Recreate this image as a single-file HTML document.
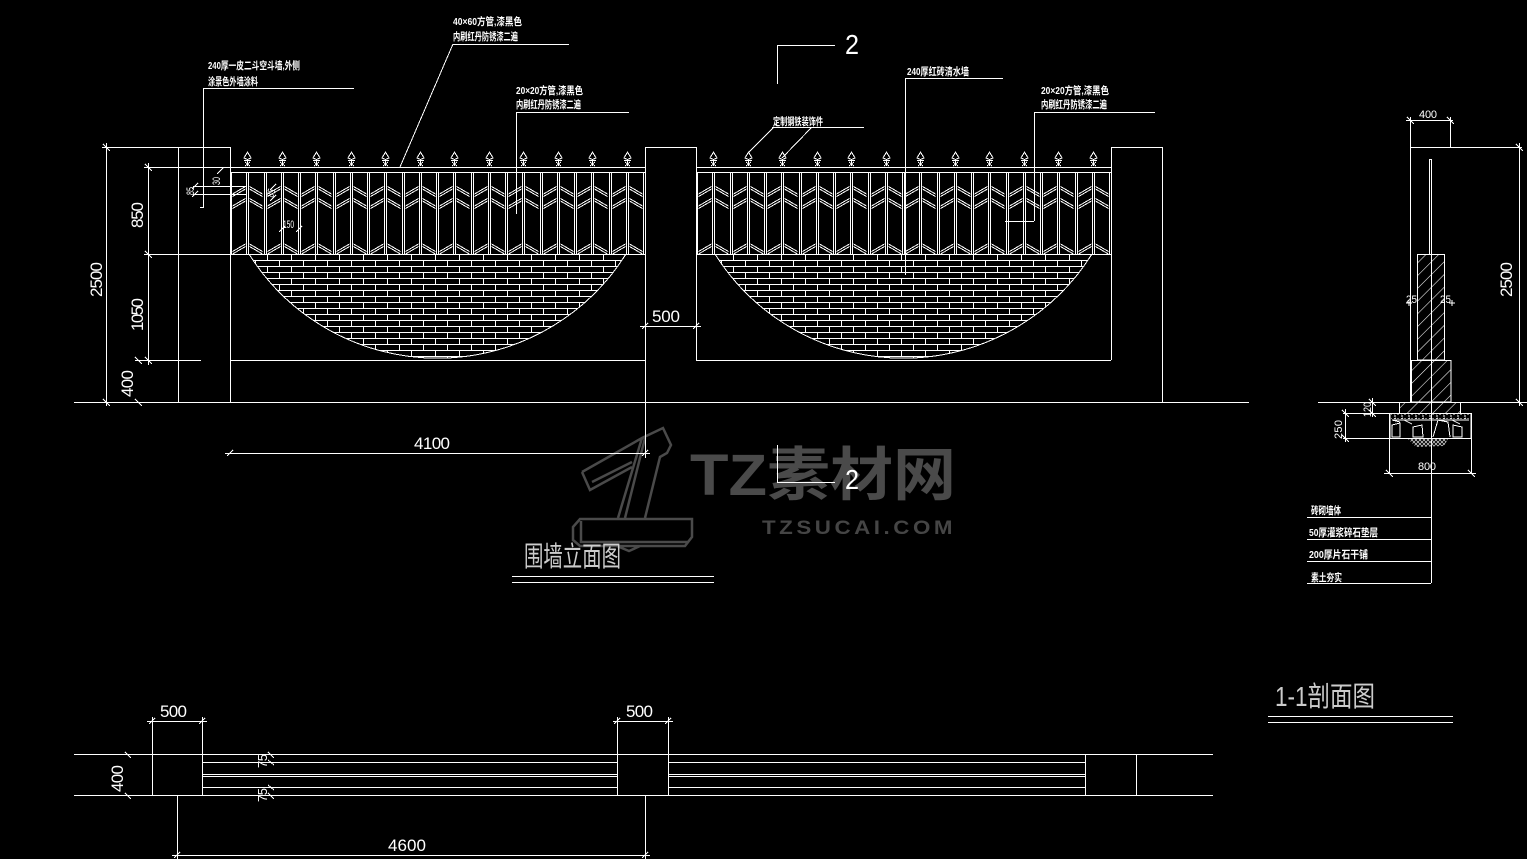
<!DOCTYPE html>
<html><head><meta charset="utf-8"><style>
html,body{margin:0;padding:0;background:#000;overflow:hidden}
svg{display:block}
text{font-family:"Liberation Sans","Noto Sans CJK SC",sans-serif;fill:#fff}
.l{stroke:#fff;stroke-width:1;fill:none;shape-rendering:crispEdges}
.c{font-size:10.500px;font-weight:bold;font-family:"Liberation Sans Narrow","Liberation Sans","Noto Sans CJK SC",sans-serif}
.n{font-size:17px;font-family:"Liberation Sans Narrow","Liberation Sans",sans-serif}
.s{font-size:11px;font-family:"Liberation Sans Narrow","Liberation Sans",sans-serif}
</style></head><body>
<svg width="1527" height="859" viewBox="0 0 1527 859" xmlns="http://www.w3.org/2000/svg">
<defs>
<g id="bay" class="l">
<path d="M2.500 194L15.500 186.500M2.500 196.500L15.500 189M19.500 186.500L32.500 194M19.500 189L32.500 196.500M2.500 206L15.500 198.500M2.500 208.500L15.500 201M19.500 198.500L32.500 206M19.500 201L32.500 208.500M2.500 251.500L15.500 244M2.500 254L15.500 246.500M19.500 244L32.500 251.500M19.500 246.500L32.500 254"/>
<path d="M16.500 172V254M18.500 172V254"/>
<path d="M17.500 152L21 158L17.500 159.500L14 158ZM14 160.500H21M15 162L20 166M20 162L15 166M17.500 159.500V166"/>
</g>
<g id="lowbar" class="l"><path d="M-.5 172V254M1.500 172V254"/></g>
<pattern id="b1" patternUnits="userSpaceOnUse" x="243" y="254" width="24" height="12"><path d="M0 .500H24M0 6.500H24M.500 0V6M12.500 6V12" stroke="#fff" fill="none" shape-rendering="crispEdges"/></pattern>
<pattern id="b2" patternUnits="userSpaceOnUse" x="709" y="254" width="24" height="12"><path d="M0 .500H24M0 6.500H24M.500 0V6M12.500 6V12" stroke="#fff" fill="none" shape-rendering="crispEdges"/></pattern>
<pattern id="h" patternUnits="userSpaceOnUse" width="9" height="9" patternTransform="rotate(45)"><path d="M0 0V9" stroke="#fff" stroke-width="1.100" fill="none"/></pattern>
<pattern id="x" patternUnits="userSpaceOnUse" width="4" height="4"><path d="M0 4L4 0M0 0L4 4" stroke="#ddd" stroke-width=".7" fill="none"/></pattern>
<pattern id="g" patternUnits="userSpaceOnUse" width="7" height="5"><path d="M1 1H3M5 3V5M1 4L3 3" stroke="#fff" fill="none"/></pattern>
<clipPath id="a1"><path d="M249 254H626A222.600 222.600 0 0 1 249 254Z"/></clipPath>
<clipPath id="a2"><path d="M715 254H1092A222.600 222.600 0 0 1 715 254Z"/></clipPath>
</defs>
<rect width="1527" height="859" fill="#000"/>

<!-- watermark -->
<g stroke="#4a4a4a" stroke-width="2.500" fill="none">
<path d="M582 472L642 438L663 428L671 445L667 453L660 457L645 518M582 472L590 490L632 467M592 482L632 462M642 438L618 518M645 438L625 518"/>
<path d="M580 519H692V537L685 546H580L573 540V527ZM581 521V542H688L692 537M617 546L629 551L640 546"/>
</g>
<text x="690" y="495" textLength="266" lengthAdjust="spacingAndGlyphs" style="font-size:58px;font-weight:bold;fill:#4a4a4a;font-family:'Liberation Sans','Noto Sans CJK SC',sans-serif">TZ素材网</text>
<text x="762" y="534" textLength="194" lengthAdjust="spacingAndGlyphs" style="font-size:19px;font-weight:bold;fill:#454545;letter-spacing:3px">TZSUCAI.COM</text>

<!-- fence panel 1 -->
<use href="#bay" x="230"/><use href="#bay" x="265"/><use href="#bay" x="299"/><use href="#bay" x="334"/><use href="#bay" x="368"/><use href="#bay" x="403"/><use href="#bay" x="437"/><use href="#bay" x="472"/><use href="#bay" x="506"/><use href="#bay" x="541"/><use href="#bay" x="575"/><use href="#bay" x="610"/>
<use href="#lowbar" x="265"/><use href="#lowbar" x="299"/><use href="#lowbar" x="334"/><use href="#lowbar" x="368"/><use href="#lowbar" x="403"/><use href="#lowbar" x="437"/><use href="#lowbar" x="472"/><use href="#lowbar" x="506"/><use href="#lowbar" x="541"/><use href="#lowbar" x="575"/><use href="#lowbar" x="610"/>
<!-- fence panel 2 -->
<use href="#bay" x="696"/><use href="#bay" x="731"/><use href="#bay" x="765"/><use href="#bay" x="800"/><use href="#bay" x="834"/><use href="#bay" x="869"/><use href="#bay" x="903"/><use href="#bay" x="938"/><use href="#bay" x="972"/><use href="#bay" x="1007"/><use href="#bay" x="1041"/><use href="#bay" x="1076"/>
<use href="#lowbar" x="731"/><use href="#lowbar" x="765"/><use href="#lowbar" x="800"/><use href="#lowbar" x="834"/><use href="#lowbar" x="869"/><use href="#lowbar" x="903"/><use href="#lowbar" x="938"/><use href="#lowbar" x="972"/><use href="#lowbar" x="1007"/><use href="#lowbar" x="1041"/><use href="#lowbar" x="1076"/>
<path class="l" d="M231.500 172V254M643.500 172V254M697.500 172V254M1109.500 172V254"/>
<g clip-path="url(#a1)"><rect x="230" y="254" width="415" height="110" fill="url(#b1)"/></g>
<g clip-path="url(#a2)"><rect x="696" y="254" width="415" height="110" fill="url(#b2)"/></g>
<path class="l" d="M249 254A222.600 222.600 0 0 0 626 254M715 254A222.600 222.600 0 0 0 1092 254"/>

<path class="l" d="M74 402.500H1249M102 147.500H230M178.500 147V402M230.500 147V402M645.500 147V458M696.500 147V360.500M645 147.500H696M1111.500 147V360M1111 147.500H1162M1162.500 147V402
M144 167.500H645M696 167.500H1111M230 172.500H645M696 172.500H1111M144 254.500H645M696 254.500H1111M135 360.500H201M230 360.500H645M696 360.500H1111
M106.500 143V406M148.500 163V365M193 186.500H247M193 194.500H247"/>
<path class="l" d="M203.500 88V208M200 207.500H203M203 88.500H354M400 167L453 44M453 44.500H569M516.500 112V214M516 112.500H629M905.500 78V275M905 78.500H1003M1034.500 112V221M1034 112.500H1155M1005 221.500H1034M748 153L774 127M782 158L812 127M772 127.500H864
M777.500 45V84M777 45.500H835M777.500 445V482M777 482.500H835
M225 453.500H650M640 326.500H701"/>
<path class="l" d="M103 144L110 151M145 164L152 171M145 251L152 258M145 357L152 364M135 357L142 364M135 399L142 406M103 399L110 406M227 456L233 450M642 456L648 450M642 329L648 323M693 329L699 323M279 232L285 226M296 232L302 226M217 174L223 168M192 189L198 183M192 197L198 191M270 190L276 184M270 201L276 195"/>

<g class="n">
<text transform="rotate(-90 143 228)" x="143" y="228" textLength="26">850</text>
<text transform="rotate(-90 143 331)" x="143" y="331" textLength="33">1050</text>
<text transform="rotate(-90 102 297)" x="102" y="297" textLength="35">2500</text>
<text transform="rotate(-90 133 397)" x="133" y="397" textLength="27">400</text>
<text x="652" y="322" textLength="28">500</text>
<text x="414" y="449" textLength="36">4100</text>
<text x="845" y="54" style="font-size:28px" textLength="14" lengthAdjust="spacingAndGlyphs">2</text>
<text x="845" y="489" style="font-size:28px" textLength="14" lengthAdjust="spacingAndGlyphs">2</text>
</g>
<g class="c">
<text x="208" y="69" textLength="92" lengthAdjust="spacingAndGlyphs">240厚一皮二斗空斗墙,外侧</text>
<text x="208" y="85" textLength="50" lengthAdjust="spacingAndGlyphs">涂景色外墙涂料</text>
<text x="453" y="25" textLength="69" lengthAdjust="spacingAndGlyphs">40×60方管,漆黑色</text>
<text x="453" y="40" textLength="65" lengthAdjust="spacingAndGlyphs">内刷红丹防锈漆二遍</text>
<text x="516" y="94" textLength="67" lengthAdjust="spacingAndGlyphs">20×20方管,漆黑色</text>
<text x="516" y="108" textLength="65" lengthAdjust="spacingAndGlyphs">内刷红丹防锈漆二遍</text>
<text x="907" y="75" textLength="62" lengthAdjust="spacingAndGlyphs">240厚红砖清水墙</text>
<text x="1041" y="94" textLength="68" lengthAdjust="spacingAndGlyphs">20×20方管,漆黑色</text>
<text x="1041" y="108" textLength="66" lengthAdjust="spacingAndGlyphs">内刷红丹防锈漆二遍</text>
<text x="773" y="125" textLength="50" lengthAdjust="spacingAndGlyphs">定制钢铁装饰件</text>
</g>
<g class="s">
<text x="283" y="228" textLength="11" lengthAdjust="spacingAndGlyphs">150</text>
<text transform="rotate(-90 220 185)" x="220" y="185" textLength="8" lengthAdjust="spacingAndGlyphs">30</text>
<text transform="rotate(-90 194 195)" x="194" y="195" textLength="8" lengthAdjust="spacingAndGlyphs">85</text>
<text transform="rotate(-70 273 198)" x="273" y="198" textLength="8" lengthAdjust="spacingAndGlyphs">85</text>
</g>

<!-- section -->
<path class="l" d="M1431.500 254V583M1429.500 159V254M1431.500 159V254M1429 159.500H1432M1410.500 117V402M1450.500 117V147M1406 120.500H1453M1410 147.500H1522M1519.500 143V406
M1417.500 254.500H1444.500V360H1417.500ZM1411.500 360.500H1451V402H1411.500ZM1399.500 402V413M1460.500 402V413M1318 402.500H1527
M1390 413.500H1471V438.500H1390ZM1392 420H1469M1389.500 413V473M1471.500 413V473M1384 473.500H1476
M1343 413.500H1390M1343 438.500H1390M1372.500 398V417M1345.500 409V442
M1307 517.500H1431M1307 539.500H1431M1307 561.500H1431M1307 583.500H1431"/>
<rect x="1418" y="255" width="26" height="105" fill="url(#h)"/>
<rect x="1412" y="361" width="39" height="41" fill="url(#h)"/>
<rect x="1400" y="403" width="60" height="10" fill="url(#h)"/>
<rect x="1391" y="414" width="79" height="5" fill="url(#g)"/>
<path d="M1408 439H1448L1444 446L1416 447Z" fill="url(#x)"/>
<path class="l" d="M1392 425L1400 423V437H1392ZM1413 427L1422 425L1423 437H1413ZM1433 437L1438 420L1448 422L1450 437M1453 425L1462 427V437H1453ZM1392 420L1400 422M1404 420L1412 424M1452 420L1460 424"/>
<path class="l" d="M1407 117L1414 124M1447 117L1454 124M1516 144L1523 151M1516 399L1523 406M1369 399L1376 406M1369 410L1376 417M1342 410L1349 417M1342 435L1349 442M1386 470L1393 477M1468 470L1475 477M1406 303H1412M1409 300V306M1449 303H1455M1452 300V306"/>
<text class="s" x="1419" y="118" textLength="18">400</text>
<text class="n" transform="rotate(-90 1512 297)" x="1512" y="297" textLength="35">2500</text>
<text class="s" x="1406" y="303" textLength="11" lengthAdjust="spacingAndGlyphs">25</text>
<text class="s" x="1440" y="303" textLength="11" lengthAdjust="spacingAndGlyphs">25</text>
<text class="s" transform="rotate(-90 1371 417)" x="1371" y="417" textLength="15" lengthAdjust="spacingAndGlyphs">120</text>
<text class="s" transform="rotate(-90 1342 439)" x="1342" y="439" textLength="19">250</text>
<text class="s" x="1418" y="470" textLength="18">800</text>
<g class="c">
<text x="1311" y="514" textLength="30" lengthAdjust="spacingAndGlyphs">砖砌墙体</text>
<text x="1309" y="536" textLength="69" lengthAdjust="spacingAndGlyphs">50厚灌浆碎石垫层</text>
<text x="1309" y="558" textLength="59" lengthAdjust="spacingAndGlyphs">200厚片石干铺</text>
<text x="1311" y="581" textLength="31" lengthAdjust="spacingAndGlyphs">素土夯实</text>
</g>

<!-- titles -->
<text x="524" y="566" textLength="97" lengthAdjust="spacingAndGlyphs" style="font-size:28px;fill:#ccc">围墙立面图</text>
<path class="l" d="M512 576.500H714M512 582.500H714M1268 716.500H1453M1268 722.500H1453"/>
<text x="1275" y="706" textLength="100" lengthAdjust="spacingAndGlyphs" style="font-size:28px;fill:#ccc">1-1剖面图</text>

<!-- plan -->
<path class="l" d="M74 754.500H1213M74 795.500H1213M152.500 717V796M202.500 717V796M617.500 717V796M668.500 717V796M1085.500 755V796M1136.500 755V796
M147 721.500H207M613 721.500H673M203 762.500H618M669 762.500H1085M203 774.500H618M669 774.500H1085M203 776.500H618M669 776.500H1085M203 787.500H618M669 787.500H1085
M177.500 796V859M645.500 796V859M172 855.500H650"/>
<path class="l" d="M149 724L155 718M199 724L205 718M614 724L620 718M665 724L671 718M125 752L131 758M125 793L131 799M268 752L274 758M268 760L274 765M268 785L274 790M268 793L274 799M174 858L180 852M642 858L648 852"/>
<g class="n">
<text x="160" y="717" textLength="27">500</text>
<text x="626" y="717" textLength="27">500</text>
<text x="388" y="851" textLength="38">4600</text>
<text transform="rotate(-90 123 792)" x="123" y="792" textLength="27">400</text>
</g>
<text class="s" transform="rotate(-90 267 768)" x="267" y="768" textLength="14" style="font-size:13px">75</text>
<text class="s" transform="rotate(-90 267 802)" x="267" y="802" textLength="14" style="font-size:13px">75</text>
</svg>
</body></html>
